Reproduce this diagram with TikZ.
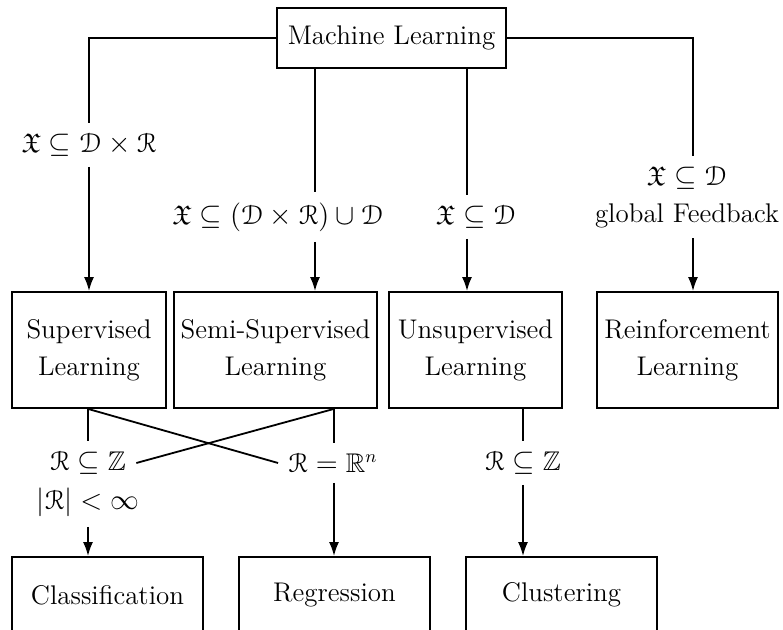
\documentclass[tikz,border=0pt]{standalone}
\usepackage{amssymb}
\usepackage[mathcal]{euscript}
\usetikzlibrary{arrows.meta}

\begin{document}
\begin{tikzpicture}[x=0.5pt,y=-0.5pt,
  font=\fontsize{13.5}{18.5}\selectfont,
  box/.style={draw,line width=0.9pt,inner sep=0pt,align=center,minimum height=58pt},
  lbl/.style={inner sep=5pt,align=center},
  link/.style={line width=0.9pt},
  arr/.style={line width=0.9pt,-{Latex[length=7pt,width=5pt]}}]
\useasboundingbox (0,0) rectangle (783,630);
% boxes
\node [box,minimum width=114.5pt,minimum height=30pt] (ml) at (391.5,38) {Machine Learning};
\node [box,minimum width=77pt] (sup) at (89,350) {Supervised\\Learning};
\node [box,minimum width=101.5pt] (semi) at (275.5,350) {Semi-Supervised\\Learning};
\node [box,minimum width=86.5pt] (uns) at (475.5,350) {Unsupervised\\Learning};
\node [box,minimum width=90.5pt] (rein) at (687.5,350) {Reinforcement\\Learning};
\node [box,minimum width=95.5pt,minimum height=38pt] (class) at (107.5,595) {Classification};
\node [box,minimum width=95.5pt,minimum height=38pt] (reg) at (334.5,595) {Regression};
\node [box,minimum width=95.5pt,minimum height=38pt] (clu) at (561.5,595) {Clustering};
% labels
\node [lbl] (l1) at (89,145) {$\mathfrak{X}\subseteq\mathcal{D}\times\mathcal{R}$};
\node [lbl] (l2) at (278,217) {$\mathfrak{X}\subseteq(\mathcal{D}\times\mathcal{R})\cup\mathcal{D}$};
\node [lbl] (l3) at (476,217) {$\mathfrak{X}\subseteq\mathcal{D}$};
\node [lbl] (l4) at (687,197) {$\mathfrak{X}\subseteq\mathcal{D}$\\global Feedback};
\node [lbl] (l5) at (88,463) {$\mathcal{R}\subseteq\mathbb{Z}$};
\node [lbl] (l5b) at (88,502) {$|\mathcal{R}|<\infty$};
\node [lbl] (l6) at (333,463) {$\mathcal{R}=\mathbb{R}^n$};
\node [lbl] (l7) at (523,463) {$\mathcal{R}\subseteq\mathbb{Z}$};
% columns
\coordinate (c2) at (315,0);
\coordinate (c3) at (467,0);
\coordinate (c4) at (693,0);
\coordinate (c5) at (88,0);
\coordinate (c6) at (334,0);
\coordinate (c7) at (523,0);
% top connectors
\draw [link] (ml.west) -| (l1.north);
\draw [arr] (l1.south) -- (l1.south |- sup.north);
\draw [link] (ml.south -| c2) -- (l2.north -| c2);
\draw [arr] (l2.south -| c2) -- (semi.north -| c2);
\draw [link] (ml.south -| c3) -- (l3.north -| c3);
\draw [arr] (l3.south -| c3) -- (uns.north -| c3);
\draw [link] (ml.east) -| (l4.north -| c4);
\draw [arr] (l4.south -| c4) -- (rein.north -| c4);
% bottom connectors
\draw [link] (sup.south -| c5) -- (l5.north -| c5);
\draw [link] (semi.south -| c6) -- (l6.north -| c6);
\draw [link] (sup.south -| c5) -- (l6.west);
\draw [link] (semi.south -| c6) -- (l5.east);
\draw [arr] (l5b.south) -- (class.north -| l5b);
\draw [arr] (l6.south -| c6) -- (reg.north -| c6);
\draw [link] (uns.south -| c7) -- (l7.north -| c7);
\draw [arr] (l7.south -| c7) -- (clu.north -| c7);
\end{tikzpicture}
\end{document}
